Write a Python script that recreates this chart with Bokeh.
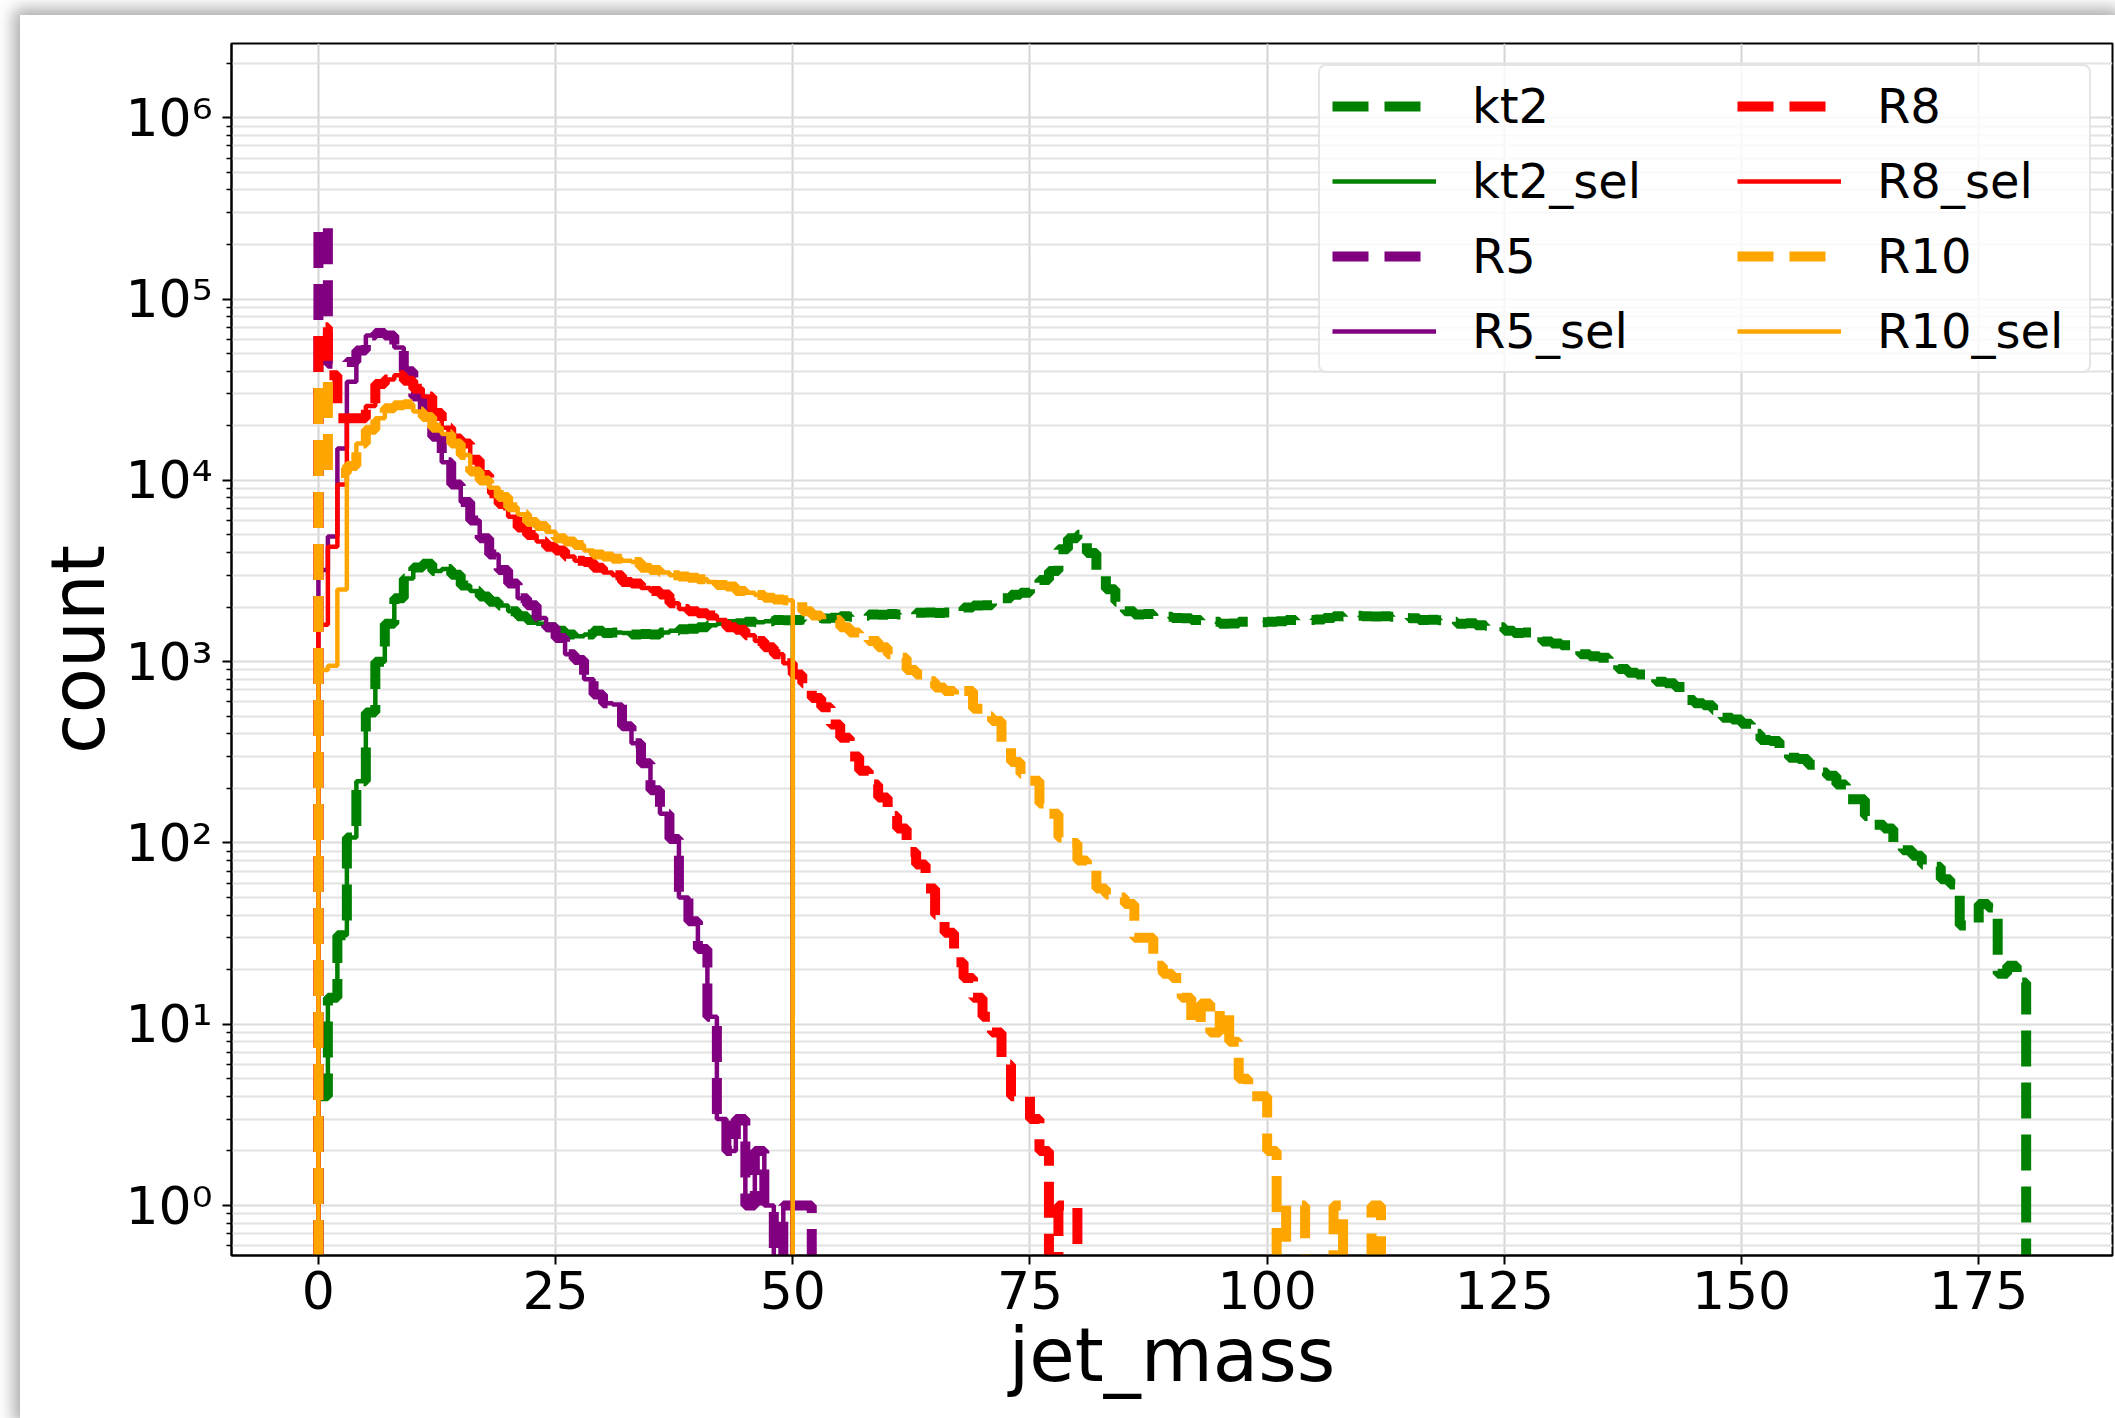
import numpy as np
from bokeh.plotting import figure
from bokeh.models import Range1d, FixedTicker, Legend, LegendItem
from bokeh.embed import file_html
from bokeh.resources import INLINE

# ---------------- data (histogram counts, 1-unit bins starting at 0) ----------------
BIN_START = 0.0
BIN_WIDTH = 1.0
SEL_CUT_BINS = 50

kt2 = [4, 14, 31, 107, 219, 525, 1000, 1620, 2240, 2880,
       3310, 3470, 3160, 3240, 3020, 2630, 2450, 2290, 2140, 2040,
       1900, 1780, 1700, 1620, 1550, 1480, 1410, 1380, 1410, 1480,
       1440, 1450, 1440, 1410, 1420, 1410, 1450, 1480, 1510, 1520,
       1550, 1590, 1620, 1615, 1630, 1660, 1650, 1670, 1700, 1690,
       1700, 1710, 1740, 1730, 1745, 1780, 1770, 1790, 1820, 1815,
       1830, 1820, 1825, 1860, 1870, 1855, 1865, 1900, 1990, 2040,
       2050, 2140, 2240, 2340, 2400, 2510, 2820, 3160, 4170, 4790,
       5010, 3980, 3020, 2510, 2140, 1900, 1820, 1830, 1780, 1770,
       1740, 1735, 1700, 1690, 1660, 1620, 1625, 1660, 1665, 1650,
       1660, 1670, 1700, 1690, 1700, 1710, 1740, 1780, 1770, 1790,
       1780, 1775, 1780, 1770, 1740, 1735, 1700, 1705, 1690, 1660,
       1620, 1630, 1590, 1580, 1550, 1480, 1440, 1450, 1380, 1290,
       1260, 1230, 1200, 1100, 1070, 1050, 1000, 910, 870, 850,
       830, 775, 760, 725, 615, 590, 575, 540, 490, 480,
       455, 400, 370, 365, 330, 295, 290, 270, 245, 235,
       210, 174, 174, 141, 126, 120, 95, 91, 85, 76,
       74, 63, 59, 35, 36, 46, 44, 19, 21, 17]

R5 = [250000, 44000, 44000, 45000, 52000, 63000, 65000, 63000, 54000, 40000,
      29000, 24000, 17400, 12600, 9500, 7600, 6000, 4800, 3900, 3200,
      2700, 2240, 2050, 1740, 1550, 1350, 1100, 1020, 800, 660,
      590, 580, 440, 355, 275, 195, 145, 105, 50, 37,
      26, 11, 3, 2, 3, 1, 2, 1, 0, 1, 1, 1]

R8 = [70000, 38000, 22000, 22000, 22000, 25700, 34000, 36000, 38000, 35500,
      32000, 29000, 23500, 19500, 17000, 16000, 13000, 10700, 8500, 7400,
      6300, 5500, 5000, 4600, 4300, 4100, 3800, 3600, 3550, 3300,
      3100, 3000, 2750, 2700, 2550, 2450, 2350, 2100, 1950, 1900,
      1850, 1800, 1700, 1550, 1500, 1400, 1300, 1200, 1100, 980,
      850, 760, 630, 560, 450, 380, 300, 250, 210, 178,
      141, 120, 89, 76, 56, 40, 32, 22, 18, 14,
      11, 9, 6, 4, 4, 3, 2, 0, 1, 1]

R10 = [35000, 11000, 11000, 12000, 16000, 19000, 22000, 25000, 26000, 26300,
       24000, 22400, 19500, 18000, 16000, 13800, 11200, 10000, 9100, 8100,
       7100, 6500, 5900, 5600, 5200, 4800, 4600, 4400, 4100, 3900,
       3800, 3700, 3600, 3550, 3300, 3200, 3100, 3000, 2950, 2900,
       2850, 2750, 2650, 2600, 2450, 2400, 2330, 2250, 2200, 2180,
       2150, 1900, 1800, 1700, 1700, 1550, 1450, 1350, 1300, 1200,
       1100, 1050, 900, 850, 780, 720, 690, 650, 690, 550,
       500, 470, 340, 280, 240, 220, 165, 145, 107, 100,
       80, 75, 56, 52, 50, 46, 30, 30, 21, 19,
       18, 14, 10, 13, 9, 12, 8, 5, 4, 4,
       2, 0, 1, 1, 0, 0, 0, 1, 0, 0, 0, 1]

# selected samples: differ only in the first bins, empty above jet_mass = 50
kt2_sel = kt2[:SEL_CUT_BINS]
R5_sel = [3200, 4900, 15000, 35000] + R5[4:SEL_CUT_BINS]
R8_sel = [1600, 4300, 9500, 22000] + R8[4:SEL_CUT_BINS]
R10_sel = [900, 950, 2500, 12000] + R10[4:SEL_CUT_BINS]

X_TICKS = [0, 25, 50, 75, 100, 125, 150, 175]
Y_TICKS = [1, 10, 100, 1000, 10000, 100000, 1000000]
Y_TICK_LABELS = ["10⁰", "10¹", "10²", "10³", "10⁴", "10⁵", "10⁶"]

SERIES = [
    ("kt2", kt2, "#008000", "dashed"),
    ("kt2_sel", kt2_sel, "#008000", "solid"),
    ("R5", R5, "#800080", "dashed"),
    ("R5_sel", R5_sel, "#800080", "solid"),
    ("R8", R8, "#ff0000", "dashed"),
    ("R8_sel", R8_sel, "#ff0000", "solid"),
    ("R10", R10, "#ffa500", "dashed"),
    ("R10_sel", R10_sel, "#ffa500", "solid"),
]

FLOOR = 1e-2  # empty bins / baseline drawn below the visible log range


def outline(counts):
    c = np.asarray(counts, dtype=float)
    edges = BIN_START + BIN_WIDTH * np.arange(len(c) + 1)
    xs = np.repeat(edges, 2)
    ys = np.concatenate([[FLOOR], np.repeat(c, 2), [FLOOR]])
    ys = np.where(ys > 0, ys, FLOOR)
    return xs, ys


FONT = "DejaVu Sans"

p = figure(width=2095, height=1403,
           x_range=Range1d(-9.16, 189.1), y_range=Range1d(0.53, 2.57e6),
           y_axis_type="log", output_backend="svg", toolbar_location=None,
           min_border_left=211, min_border_right=3, min_border_top=28, min_border_bottom=163)
p.styles = {"margin-left": "20px", "margin-top": "15px",
            "box-shadow": "0px 0px 16px 6px rgba(0,0,0,0.35)"}

p.background_fill_color = "white"
p.border_fill_color = "white"
p.outline_line_color = "black"
p.outline_line_width = 2

p.xgrid.grid_line_color = "#d4d4d4"
p.xgrid.grid_line_width = 2
p.ygrid.grid_line_color = "#dcdcdc"
p.ygrid.grid_line_width = 2
p.ygrid.minor_grid_line_color = "#e2e2e2"
p.ygrid.minor_grid_line_width = 2

p.xaxis.ticker = FixedTicker(ticks=X_TICKS)
y_minor = [m * 10.0 ** k for k in range(-1, 7) for m in range(2, 10)]
p.yaxis.ticker = FixedTicker(ticks=Y_TICKS, minor_ticks=y_minor)
p.yaxis.major_label_overrides = {t: lab for t, lab in zip(Y_TICKS, Y_TICK_LABELS)}

for ax in (p.xaxis[0], p.yaxis[0]):
    ax.axis_line_color = "black"
    ax.axis_line_width = 2
    ax.major_tick_line_color = "black"
    ax.major_tick_line_width = 2
    ax.major_tick_out = 9
    ax.major_tick_in = 0
    ax.minor_tick_line_color = "black"
    ax.minor_tick_line_width = 1.5
    ax.minor_tick_out = 5
    ax.minor_tick_in = 0
    ax.major_label_text_font = FONT
    ax.major_label_text_font_size = "52px"
    ax.major_label_text_color = "black"
    ax.axis_label_text_font = FONT
    ax.axis_label_text_font_size = "74px"
    ax.axis_label_text_font_style = "normal"
    ax.axis_label_text_color = "black"
p.xaxis.minor_tick_line_color = None
p.xaxis.major_label_standoff = 6
p.yaxis.major_label_standoff = 10
p.xaxis.axis_label = "jet_mass"
p.yaxis.axis_label = "count"
p.xaxis.axis_label_standoff = 0
p.yaxis.axis_label_standoff = 1

items = []
for name, counts, color, style in SERIES:
    xs, ys = outline(counts)
    if style == "dashed":
        r = p.line(xs, ys, line_color=color, line_width=10, line_dash="36 16")
    else:
        r = p.line(xs, ys, line_color=color, line_width=4.5)
    items.append(LegendItem(label=name, renderers=[r]))

# Two-column legend built from two single-column legends so that the
# column positions can be matched; the first one carries the frame/background.
legend_common = dict(label_text_font=FONT, label_text_font_size="48px",
                     label_text_color="black",
                     glyph_width=104, glyph_height=40, label_standoff=36,
                     label_height=56, spacing=19, padding=12, margin=0)
# frame-relative positions (pixels from frame bottom-left, legend bottom-left corner)
legend_a = Legend(items=items[:4], location=(1087, 882), label_width=605,
                  border_line_color="#cccccc", border_line_width=2,
                  background_fill_color="white", background_fill_alpha=0.8,
                  **legend_common)
legend_b = Legend(items=items[4:], location=(1506, 896), label_width=150,
                  border_line_color=None, background_fill_alpha=0.0,
                  **legend_common)
if "border_radius" in Legend.properties():
    legend_a.border_radius = 8
p.add_layout(legend_a)
p.add_layout(legend_b)

open("out.html", "w").write(file_html(p, INLINE))
